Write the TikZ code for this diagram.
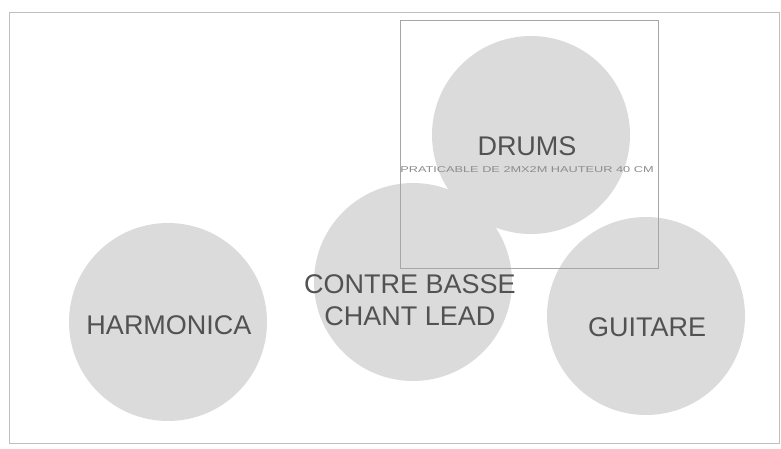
\documentclass[tikz,border=0pt]{standalone}
\usepackage{fontspec}
\setmainfont{Liberation Sans}
\usetikzlibrary{positioning}

\begin{document}
\begin{tikzpicture}[
  x=1pt, y=-1pt,
  zone/.style={circle, fill=black!14, minimum size=198pt, inner sep=0},
  lbl/.style={text=black!68, align=center, font=\fontsize{27}{32}\selectfont},
  small/.style={text=black!45, font=\fontsize{8.5}{10}\selectfont},
  frame/.style={draw=black!25, line width=0.8pt},
]
\useasboundingbox (0,0) rectangle (781,449);

\node[frame, rectangle, minimum width=770pt, minimum height=431pt, inner sep=0] (scene) at (394,227.5) {};

\node[zone] (drums)  at (531,135) {};
\node[zone] (basse)  at (413,282) {};
\node[zone] (harmo)  at (168,322) {};
\node[zone] (guit)   at (646,316) {};

% praticable
\node[draw=black!35, line width=0.7pt, rectangle, minimum width=258pt, minimum height=248pt, inner sep=0] (prat) at (529,144) {};

\node[lbl] (tdrums) at (527,146) {DRUMS};
\node[small] (tprat) at (527,170) {\scalebox{1.5}[1]{PRATICABLE DE 2MX2M HAUTEUR 40 CM}};
\node[lbl] (tbasse) at (410,300) {CONTRE BASSE\\CHANT LEAD};
\node[lbl] (tharmo) at (169,325) {HARMONICA};
\node[lbl] (tguit)  at (647,327) {GUITARE};

\end{tikzpicture}
\end{document}
